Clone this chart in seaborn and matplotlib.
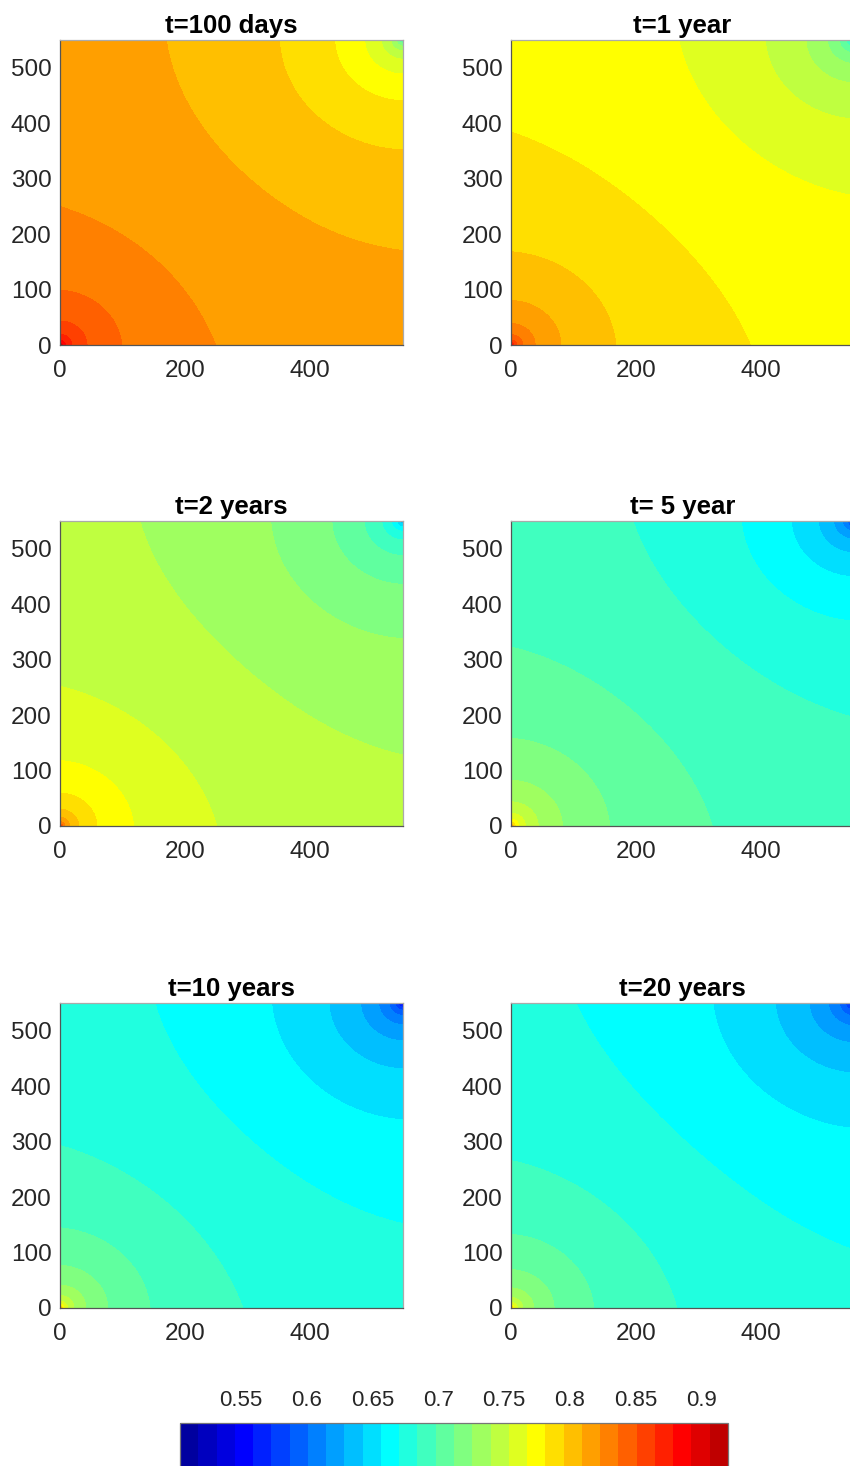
import numpy as np
import seaborn as sns
import matplotlib
matplotlib.use("Agg")
import matplotlib.pyplot as plt
from matplotlib.colors import ListedColormap, BoundaryNorm

# Panel titles
titles = ["t=100 days", "t=1 year", "t=2 years", "t= 5 year", "t=10 years", "t=20 years"]

# Contour edges.
# inj_*: distance (m) from the injector corner (0,0) along the bottom edge, and colour step there
# prod_*: distance (m) from the producer corner (550,550) along the right edge, and colour step there
inj_radius = [
    [238, 101, 47, 20, 6],
    [374, 168, 83, 40, 18, 8],
    [240, 122, 62, 30, 15, 7],
    [307, 163, 86, 46, 22, 10],
    [277, 149, 80, 42, 23, 10],
    [253, 136, 74, 39, 18, 7],
]
inj_step = [
    [23, 24, 25, 26, 27],
    [20, 21, 22, 23, 24, 25],
    [18, 19, 20, 21, 22, 23],
    [14, 15, 16, 17, 18, 19],
    [13, 14, 15, 16, 17, 18],
    [13, 14, 15, 16, 17, 18],
]
prod_radius = [
    [375, 196, 110, 64, 36, 17],
    [266, 145, 82, 45, 23, 10],
    [418, 208, 115, 64, 36, 19, 8],
    [342, 183, 103, 58, 33, 19, 9],
    [391, 208, 118, 70, 42, 23, 10],
    [443, 222, 127, 74, 42, 23, 12],
]
prod_step = [
    [22, 21, 20, 19, 18, 17],
    [19, 18, 17, 16, 15, 14],
    [17, 16, 15, 14, 13, 12, 11],
    [13, 12, 11, 10, 9, 8, 7],
    [12, 11, 10, 9, 8, 7, 6],
    [12, 11, 10, 9, 8, 7, 6],
]

# Colour scale
n_bands = 30
vmin, vmax = 0.5036, 0.9202
cbar_ticks = [0.55, 0.6, 0.65, 0.7, 0.75, 0.8, 0.85, 0.9]
cbar_labels = ["0.55", "0.6", "0.65", "0.7", "0.75", "0.8", "0.85", "0.9"]
x_ticks = [0, 200, 400]
y_ticks = [0, 100, 200, 300, 400, 500]
side = 550.0


def matlab_jet(n):
    # same recipe as MATLAB's jet(n)
    m = int(np.ceil(n / 4))
    u = np.concatenate([np.arange(1, m + 1) / m, np.ones(m - 1), np.arange(m, 0, -1) / m])
    g = int(np.ceil(m / 2)) - (1 if n % 4 == 1 else 0) + np.arange(1, len(u) + 1)
    J = np.zeros((n, 3))
    for chan, idx in ((0, g + m), (1, g), (2, g - m)):
        ok = (idx >= 1) & (idx <= n)
        J[idx[ok] - 1, chan] = u[ok]
    return J


def smooth_log(r, R):
    return 0.5 * np.log1p((R / r) ** 2)


def fit_field(ir, ik, pr, pk):
    # fit a doublet-like field (injector at 0,0 / producer at 550,550) to the read edges,
    # big rings count more than the tiny ones at the corners
    ir = np.asarray(ir, float)
    pr = np.asarray(pr, float)
    px = np.r_[ir, np.full(len(pr), side)]
    py = np.r_[np.zeros(len(ir)), side - pr]
    target = np.r_[ik, pk].astype(float)
    wts = np.sqrt(np.r_[ir, pr])
    r1 = np.hypot(px, py)
    r2 = np.hypot(side - px, side - py)
    best = None
    grid = np.geomspace(40, 8000, 70)
    for R1 in grid:
        k1 = smooth_log(r1, R1)
        for R2 in grid:
            M = np.column_stack([np.ones_like(r1), k1, -smooth_log(r2, R2)])
            coef, *_ = np.linalg.lstsq(M * wts[:, None], target * wts, rcond=None)
            err = np.sum(((M @ coef - target) * wts) ** 2)
            if best is None or err < best[0]:
                best = (err, R1, R2, coef)
    return best[1:]


sns.set_theme(style="white", font="Liberation Sans")
plt.rcParams["font.family"] = ["Liberation Sans", "DejaVu Sans"]

colors = sns.color_palette(matlab_jet(n_bands).tolist())
cmap = ListedColormap(colors)
levels = np.linspace(vmin, vmax, n_bands + 1)
norm = BoundaryNorm(levels, cmap.N)
band = (vmax - vmin) / n_bands

xs = np.linspace(0, side, 553)
X, Y = np.meshgrid(xs, xs)
R1g = np.maximum(np.hypot(X, Y), 1.0)
R2g = np.maximum(np.hypot(side - X, side - Y), 1.0)

W, H = 850, 1466
fig = plt.figure(figsize=(W / 100, H / 100), dpi=100)

col_left = [60, 511]
row_top = [40, 521, 1003]
ax_w, ax_h = 343, 305

cs = None
for i, title in enumerate(titles):
    row, col = divmod(i, 2)
    ax = fig.add_axes([col_left[col] / W, (H - row_top[row] - ax_h) / H, ax_w / W, ax_h / H])
    R1, R2, (c, a, b) = fit_field(inj_radius[i], inj_step[i], prod_radius[i], prod_step[i])
    idx = c + a * smooth_log(R1g, R1) - b * smooth_log(R2g, R2)
    Z = np.clip(vmin + band * idx, vmin + 1e-6, vmax - 1e-6)
    cs = ax.contourf(X, Y, Z, levels=levels, cmap=cmap, norm=norm)
    ax.set_xlim(0, side)
    ax.set_ylim(0, side)
    ax.set_xticks(x_ticks)
    ax.set_yticks(y_ticks)
    ax.set_xticklabels([str(t) for t in x_ticks])
    ax.set_yticklabels([str(t) for t in y_ticks])
    ax.tick_params(axis="both", direction="in", length=4, width=0.8, color="#262626",
                   labelsize=17.5, labelcolor="#262626")
    ax.tick_params(axis="x", pad=11)
    ax.tick_params(axis="y", pad=6)
    for name, sp in ax.spines.items():
        sp.set_visible(True)
        sp.set_linewidth(0.9)
        sp.set_color("#555555" if name in ("bottom", "left") else "#aaaaaa")
    ax.set_title(title, fontsize=18.5, fontweight="bold", pad=5, color="black")

cax = fig.add_axes([180 / W, -0.01, 548 / W, (H - 1423) / H + 0.01])
cb = fig.colorbar(cs, cax=cax, orientation="horizontal")
cb.set_ticks(cbar_ticks)
cb.set_ticklabels(cbar_labels)
cax.minorticks_off()
cax.xaxis.set_ticks_position("top")
cax.xaxis.set_label_position("top")
cax.tick_params(which="both", direction="in", length=6, width=1, color="#333333", labelsize=16,
                labelcolor="#262626", pad=9)
cax.tick_params(which="minor", length=0)
cb.outline.set_edgecolor("#777777")
cb.outline.set_linewidth(0.9)

fig.savefig("out.png", dpi=100)
